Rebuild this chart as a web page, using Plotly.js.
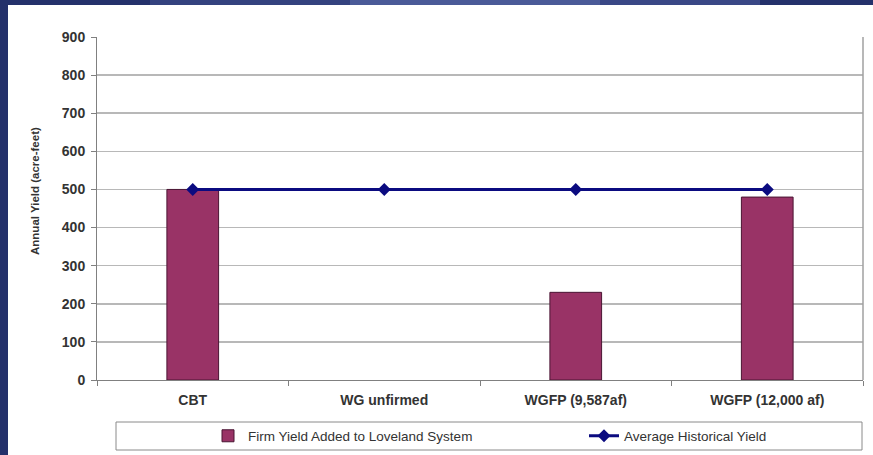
<!DOCTYPE html>
<html>
<head>
<meta charset="utf-8">
<script src="https://cdn.plot.ly/plotly-3.0.1.min.js"></script>
<style>html,body{margin:0;padding:0;background:#24316b;}#chart{width:873px;height:455px;}</style>
</head>
<body>
<div id="chart"></div>
<script>
const categories = ["CBT", "WG unfirmed", "WGFP (9,587af)", "WGFP (12,000 af)"];
const firmYield = [500, 0, 230, 480];
const avgHistorical = [500, 500, 500, 500];
const yTicks = [0, 100, 200, 300, 400, 500, 600, 700, 800, 900];
const yTitle = "Annual Yield (acre-feet)";

const W = 873, H = 455;
const L = 97, R = 10, T = 37, B = 75;
const pw = W - L - R, ph = H - T - B;
const px = x => (x - L) / pw;
const py = y => (H - B - y) / ph;

const fam = "Liberation Sans, Arial, sans-serif";
const txt = "#333333";

const traces = [
  {
    type: "bar", name: "Firm Yield Added to Loveland System",
    x: categories, y: firmYield, width: 0.27,
    marker: {color: "#993366", line: {color: "#4a1533", width: firmYield.map(v => v > 0 ? 1 : 0)}},
    legend: "legend"
  },
  {
    type: "scatter", mode: "lines+markers", name: "Average Historical Yield",
    x: categories, y: avgHistorical,
    line: {color: "#0b0b80", width: 3},
    marker: {symbol: "diamond", size: 10, color: "#0b0b80"},
    legend: "legend2"
  }
];

const legendBase = {
  orientation: "h", xanchor: "left", yanchor: "middle",
  bgcolor: "rgba(0,0,0,0)", borderwidth: 0,
  font: {family: fam, size: 13.5, color: txt}
};

const layout = {
  width: W, height: H,
  margin: {l: L, r: R, t: T, b: B, autoexpand: false},
  paper_bgcolor: "#24316b",
  plot_bgcolor: "rgba(0,0,0,0)",
  showlegend: true,
  font: {family: fam, size: 12, color: txt},
  xaxis: {
    type: "category", range: [-0.5, 3.5],
    showgrid: false, showline: true, linecolor: "#808080", linewidth: 1,
    ticks: "outside", tickson: "boundaries", ticklen: 5, tickcolor: "#808080",
    ticklabelstandoff: 7,
    tickfont: {family: fam, size: 14, color: txt, weight: "bold"},
    zeroline: false, automargin: false
  },
  yaxis: {
    range: [0, 900], tickvals: yTicks, ticktext: yTicks.map(String),
    showgrid: true, gridcolor: "#b8b8b8", gridwidth: 1.5,
    showline: true, linecolor: "#808080", linewidth: 1,
    ticks: "outside", ticklen: 5, tickcolor: "#808080",
    ticklabelstandoff: 3,
    tickfont: {family: fam, size: 14, color: txt, weight: "bold"},
    zeroline: false, automargin: false
  },
  annotations: [
    {text: yTitle, xref: "paper", yref: "paper", x: px(35), y: py(191),
     xanchor: "center", yanchor: "middle", textangle: -90, showarrow: false,
     font: {family: fam, size: 11.5, color: txt, weight: "bold"}}
  ],
  legend: Object.assign({}, legendBase, {x: px(208), y: py(436)}),
  legend2: Object.assign({}, legendBase, {x: px(584), y: py(436)}),
  shapes: [
    {type: "rect", xref: "paper", yref: "paper", layer: "below",
     x0: px(8), x1: px(880), y0: py(5), y1: py(470),
     fillcolor: "#ffffff", line: {width: 0}},
    {type: "rect", xref: "paper", yref: "paper", layer: "below",
     x0: px(150), x1: px(350), y0: py(-2), y1: py(5),
     fillcolor: "#34427f", line: {width: 0}},
    {type: "rect", xref: "paper", yref: "paper", layer: "below",
     x0: px(350), x1: px(600), y0: py(-2), y1: py(5),
     fillcolor: "#4a5a98", line: {width: 0}},
    {type: "rect", xref: "paper", yref: "paper", layer: "below",
     x0: px(600), x1: px(760), y0: py(-2), y1: py(5),
     fillcolor: "#3a4886", line: {width: 0}},
    {type: "line", xref: "paper", yref: "paper", layer: "above",
     x0: 1, x1: 1, y0: 0, y1: 1, line: {color: "#a0a0a0", width: 1.5}},
    {type: "rect", xref: "paper", yref: "paper", layer: "below",
     x0: px(116), x1: px(862), y0: py(422), y1: py(450),
     fillcolor: "rgba(0,0,0,0)", line: {color: "#8a8a8a", width: 1}}
  ]
};

Plotly.newPlot("chart", traces, layout, {displayModeBar: false, staticPlot: true});
</script>
</body>
</html>
